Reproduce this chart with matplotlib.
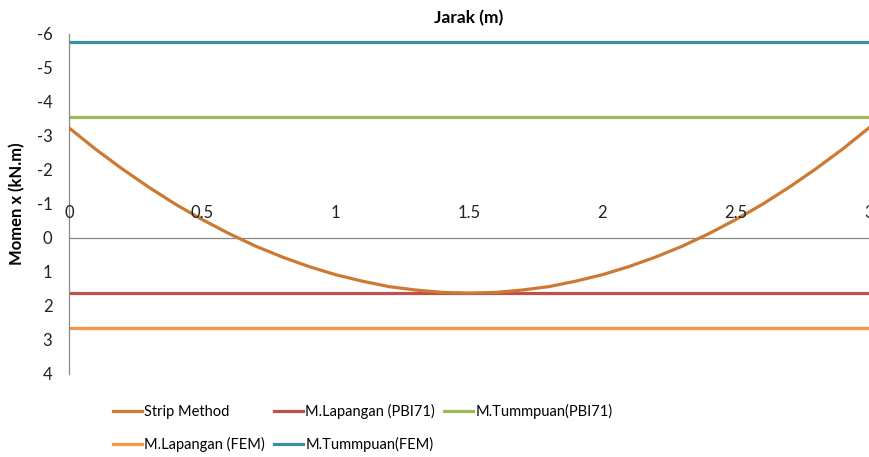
import matplotlib
matplotlib.use('Agg')
import matplotlib.pyplot as plt

plt.rcParams['font.family'] = ['Lato', 'DejaVu Sans']
plt.rcParams['axes.unicode_minus'] = False

# Strip method moment along the span (kN.m)
jarak = [0.0, 0.1, 0.2, 0.3, 0.4, 0.5, 0.6, 0.7, 0.8, 0.9, 1.0, 1.1, 1.2, 1.3, 1.4, 1.5,
         1.6, 1.7, 1.8, 1.9, 2.0, 2.1, 2.2, 2.3, 2.4, 2.5, 2.6, 2.7, 2.8, 2.9, 3.0]
strip_method = [-3.24, -2.61, -2.03, -1.49, -0.99, -0.54, -0.13, 0.24, 0.56, 0.84, 1.08,
                1.27, 1.43, 1.53, 1.60, 1.62, 1.60, 1.53, 1.43, 1.27, 1.08, 0.84, 0.56,
                0.24, -0.13, -0.54, -0.99, -1.49, -2.03, -2.61, -3.24]

# Design moments (constant along the span)
span_ends = [0.0, 3.0]
m_lapangan_pbi71 = 1.63
m_tumpuan_pbi71 = -3.56
m_lapangan_fem = 2.66
m_tumpuan_fem = -5.76

x_ticks = [0, 0.5, 1, 1.5, 2, 2.5, 3]
x_tick_labels = ['0', '0.5', '1', '1.5', '2', '2.5', '3']
y_ticks = [-6, -5, -4, -3, -2, -1, 0, 1, 2, 3, 4]

C_STRIP = '#CC7A33'
C_LAP_PBI = '#C0504D'
C_TUM_PBI = '#9BBB59'
C_LAP_FEM = '#F79646'
C_TUM_FEM = '#3A8FA3'
AXIS_GRAY = '#898989'
TXT = '#222222'

fig = plt.figure(figsize=(8.69, 4.57), dpi=100)
ax = fig.add_axes([69 / 869, 1 - 374 / 457, 800 / 869, 340 / 457])

lw = 2.3
ax.plot(jarak, strip_method, color=C_STRIP, lw=lw, label='Strip Method', zorder=3)
ax.plot(span_ends, [m_lapangan_fem] * 2, color=C_LAP_FEM, lw=lw, label='M.Lapangan (FEM)')
ax.plot(span_ends, [m_lapangan_pbi71] * 2, color=C_LAP_PBI, lw=lw, label='M.Lapangan (PBI71)')
ax.plot(span_ends, [m_tumpuan_fem] * 2, color=C_TUM_FEM, lw=lw, label='M.Tummpuan(FEM)')
ax.plot(span_ends, [m_tumpuan_pbi71] * 2, color=C_TUM_PBI, lw=lw, label='M.Tummpuan(PBI71)')

ax.set_xlim(0, 3)
ax.set_ylim(4, -6)
ax.axhline(0, color=AXIS_GRAY, lw=0.9, zorder=1)

for s in ('top', 'right', 'bottom'):
    ax.spines[s].set_visible(False)
ax.spines['left'].set_color(AXIS_GRAY)
ax.spines['left'].set_linewidth(0.9)

ax.set_yticks(y_ticks)
ax.tick_params(axis='y', length=0, pad=12, labelsize=12, labelcolor=TXT)
ax.set_xticks([])

# category labels sit just above the zero line
for xv, lab in zip(x_ticks, x_tick_labels):
    ax.text(xv, -0.74, lab, ha='center', va='center', fontsize=12,
            color=TXT, clip_on=False)

ax.set_title('Jarak (m)', fontsize=12.5, fontweight='bold', pad=8)
ax.set_ylabel('Momen x (kN.m)', fontsize=12, fontweight='bold', labelpad=8)

handles, labels = ax.get_legend_handles_labels()
fig.legend(handles, labels, ncol=3, loc='upper left',
           bbox_to_anchor=(100 / 869, 1 - 391 / 457), frameon=False,
           fontsize=10.5, handlelength=2.0, handletextpad=0.15,
           columnspacing=0.6, labelspacing=1.2)

fig.savefig('out.png', dpi=100)
